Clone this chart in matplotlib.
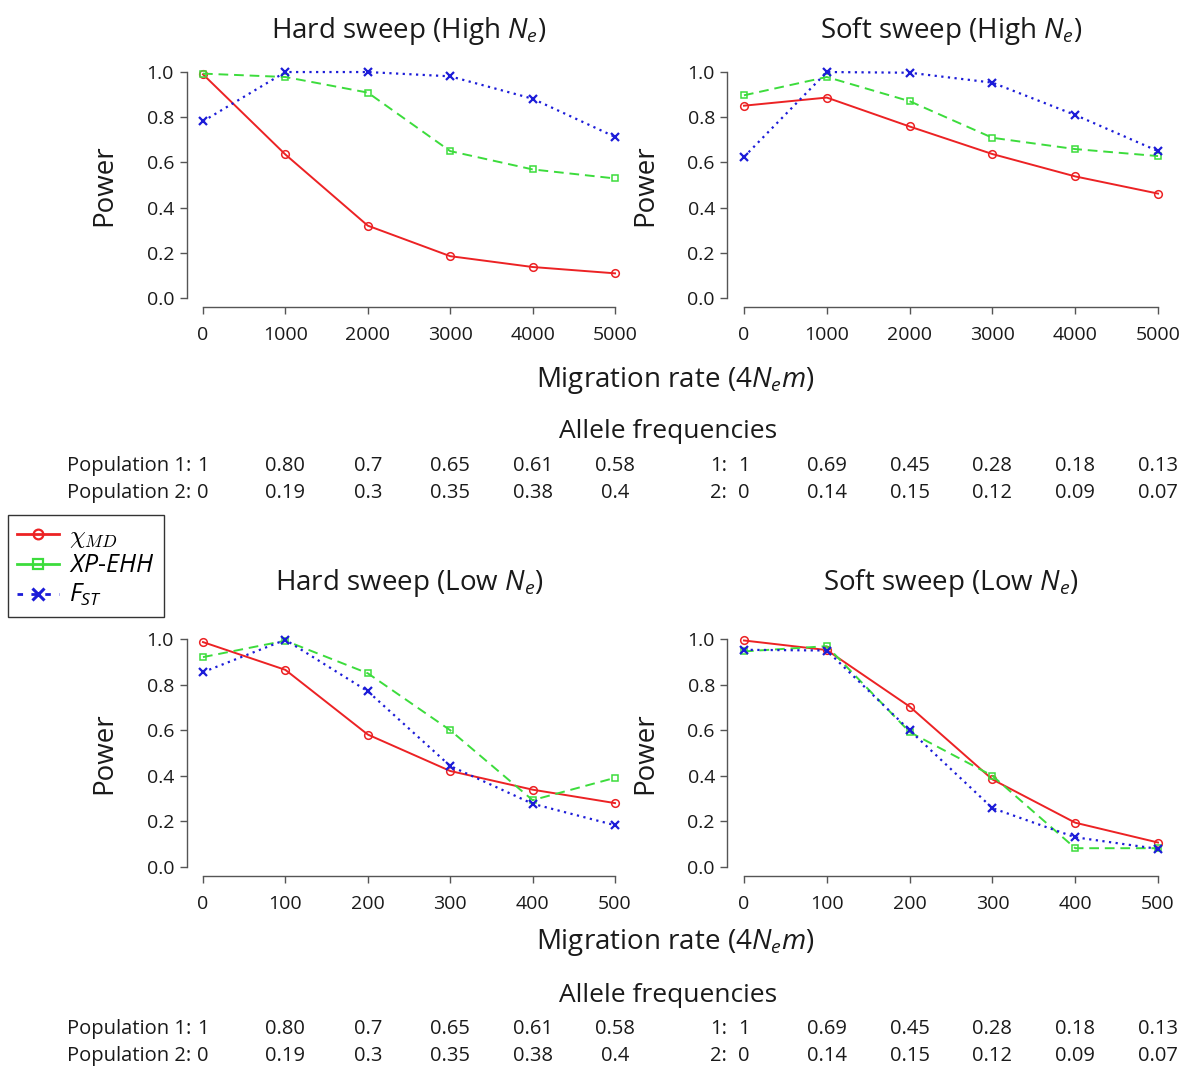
import matplotlib
matplotlib.use("Agg")
import matplotlib.pyplot as plt
from matplotlib.lines import Line2D

plt.rcParams['font.family'] = ['Open Sans', 'DejaVu Sans']
plt.rcParams['mathtext.fontset'] = 'custom'
plt.rcParams['mathtext.rm'] = 'Open Sans'
plt.rcParams['mathtext.it'] = 'Open Sans:italic'

# --- data ---
mig_high = [0, 1000, 2000, 3000, 4000, 5000]
mig_low = [0, 100, 200, 300, 400, 500]

hard_high_xmd = [0.99, 0.635, 0.32, 0.185, 0.137, 0.109]
hard_high_xpehh = [0.993, 0.978, 0.909, 0.65, 0.569, 0.529]
hard_high_fst = [0.782, 1.0, 1.0, 0.981, 0.882, 0.713]

soft_high_xmd = [0.851, 0.887, 0.759, 0.637, 0.538, 0.462]
soft_high_xpehh = [0.897, 0.978, 0.871, 0.709, 0.659, 0.628]
soft_high_fst = [0.624, 1.0, 0.997, 0.953, 0.81, 0.65]

hard_low_xmd = [0.987, 0.865, 0.581, 0.421, 0.339, 0.28]
hard_low_xpehh = [0.921, 0.993, 0.85, 0.6, 0.293, 0.391]
hard_low_fst = [0.855, 0.997, 0.771, 0.443, 0.277, 0.183]

soft_low_xmd = [0.994, 0.952, 0.704, 0.384, 0.194, 0.107]
soft_low_xpehh = [0.946, 0.969, 0.592, 0.4, 0.082, 0.082]
soft_low_fst = [0.953, 0.95, 0.6, 0.258, 0.13, 0.079]

hard_pop1 = ["1", "0.80", "0.7", "0.65", "0.61", "0.58"]
hard_pop2 = ["0", "0.19", "0.3", "0.35", "0.38", "0.4"]
soft_pop1 = ["1", "0.69", "0.45", "0.28", "0.18", "0.13"]
soft_pop2 = ["0", "0.14", "0.15", "0.12", "0.09", "0.07"]

RED = '#ec2224'
GREEN = '#3cdc3c'
BLUE = '#1c1cd8'
AXCOL = '#555555'
TXT = '#1a1a1a'

W, H = 1184, 1072
fig = plt.figure(figsize=(W / 100, H / 100), dpi=100)


def fx(x):
    return x / W


def fy(y):
    return 1 - y / H


def make_axes(left, right, top, bottom):
    return fig.add_axes([fx(left), fy(bottom), fx(right - left), (bottom - top) / H])


def draw_panel(ax, x, xmd, xpehh, fst, title, title_pad):
    ax.plot(x, xmd, color=RED, lw=1.4, marker='o', ms=5.5, mfc='none', mew=1.1)
    ax.plot(x, xpehh, color=GREEN, lw=1.4, ls=(0, (5, 3)), marker='s', ms=5, mfc='none', mew=1.1)
    ax.plot(x, fst, color=BLUE, lw=1.6, ls=(0, (1, 2)), marker='x', ms=6, mew=1.6)
    pad = 0.04 * x[-1]
    ax.set_xlim(-pad, x[-1] + pad)
    ax.set_ylim(-0.04, 1.04)
    ax.set_xticks(x)
    ax.set_yticks([0, 0.2, 0.4, 0.6, 0.8, 1.0])
    ax.set_yticklabels(["0.0", "0.2", "0.4", "0.6", "0.8", "1.0"])
    for s in ['top', 'right']:
        ax.spines[s].set_visible(False)
    ax.spines['left'].set_bounds(0, 1)
    ax.spines['bottom'].set_bounds(0, x[-1])
    for s in ['left', 'bottom']:
        ax.spines[s].set_color(AXCOL)
        ax.spines[s].set_linewidth(1.0)
    ax.tick_params(direction='out', length=5, width=1.0, color=AXCOL,
                   labelsize=14, labelcolor=TXT)
    ax.tick_params(axis='x', pad=9)
    ax.tick_params(axis='y', pad=4)
    ax.set_title(title, fontsize=20, color=TXT, pad=title_pad)
    ax.set_ylabel("Power", fontsize=20, color=TXT, labelpad=20)
    ax.patch.set_alpha(0)


ax_hh = make_axes(186.5, 631.5, 63, 307)
ax_sh = make_axes(727.4, 1174.6, 63, 307)
ax_hl = make_axes(186.5, 631.5, 630, 876)
ax_sl = make_axes(727.4, 1174.6, 630, 876)

draw_panel(ax_hh, mig_high, hard_high_xmd, hard_high_xpehh, hard_high_fst, "Hard sweep (High $N_e$)", 18)
draw_panel(ax_sh, mig_high, soft_high_xmd, soft_high_xpehh, soft_high_fst, "Soft sweep (High $N_e$)", 18)
draw_panel(ax_hl, mig_low, hard_low_xmd, hard_low_xpehh, hard_low_fst, "Hard sweep (Low $N_e$)", 29)
draw_panel(ax_sl, mig_low, soft_low_xmd, soft_low_xpehh, soft_low_fst, "Soft sweep (Low $N_e$)", 29)


# labels under each row of panels
def allele_block(y0, ax_left, ax_right):
    fig.text(fx(675), fy(y0), "Migration rate (4$N_em$)", fontsize=20,
             color=TXT, ha='center', va='center')
    fig.text(fx(668), fy(y0 + 52), "Allele frequencies", fontsize=19,
             color=TXT, ha='center', va='center')
    rows = [(y0 + 86, "Population 1:", "1:", hard_pop1, soft_pop1),
            (y0 + 113, "Population 2:", "2:", hard_pop2, soft_pop2)]
    for yy, lab_l, lab_r, vals_l, vals_r in rows:
        fig.text(fx(191), fy(yy), lab_l, fontsize=14.5, color=TXT, ha='right', va='center')
        fig.text(fx(727), fy(yy), lab_r, fontsize=14.5, color=TXT, ha='right', va='center')
        for ax, vals in [(ax_left, vals_l), (ax_right, vals_r)]:
            xt = ax.get_xticks()
            for xv, v in zip(xt, vals):
                # value sits under its tick
                xd = ax.transData.transform((xv, 0))[0]
                xf = fig.transFigure.inverted().transform((xd, 0))[0]
                fig.text(xf, fy(yy), v, fontsize=14.5, color=TXT, ha='center', va='center')


allele_block(380, ax_hh, ax_sh)
allele_block(943, ax_hl, ax_sl)

# legend
handles = [
    Line2D([], [], color=RED, lw=2, marker='o', ms=7, mfc='none', mew=1.6),
    Line2D([], [], color=GREEN, lw=2, marker='s', ms=6.5, mfc='none', mew=1.6),
    Line2D([], [], color=BLUE, lw=2, ls=(0, (2, 3)), marker='x', ms=8, mew=2.2),
]
leg = fig.legend(handles, [r"$\chi_{MD}$", r"$XP$-$EHH$", r"$F_{ST}$"],
                 loc='upper left', bbox_to_anchor=(fx(8), fy(515)),
                 fontsize=18, frameon=True, fancybox=False, edgecolor='black',
                 handlelength=1.7, handletextpad=0.4, borderpad=0.35,
                 labelspacing=0.15, borderaxespad=0)
leg.get_frame().set_linewidth(1.0)
leg.get_texts()[0].set_math_fontfamily('cm')

fig.savefig("out.png", dpi=100)
